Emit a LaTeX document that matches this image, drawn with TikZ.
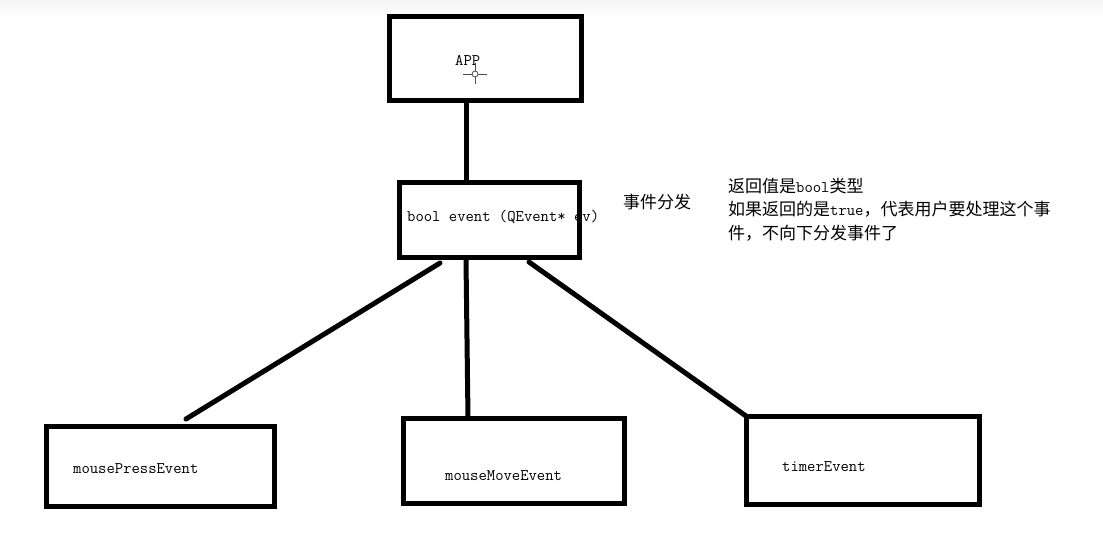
\documentclass[tikz,border=0pt]{standalone}
\usepackage{fontspec}
\newfontfamily\cjk{Noto Sans CJK SC}
\begin{document}
\begin{tikzpicture}[x=1pt,y=-1pt,
  box/.style={draw=black, line width=5pt, rectangle, inner sep=0pt},
  code/.style={font=\fontsize{16.2}{18}\ttfamily, inner sep=0pt, anchor=west},
  link/.style={line width=5pt, line cap=round},
  cjktext/.style={font=\fontsize{17}{23.5}\cjk, inner sep=0pt}
]
\useasboundingbox (0,0) rectangle (1103,558);
\shade[top color=black!4, bottom color=white] (0,0) rectangle (1103,18);

% APP
\node[box, minimum width=192pt, minimum height=84pt] (app) at (485.5,58.5) {};
\node[code] (apptxt) at (455,60) {APP};
% cursor crosshair
\coordinate (cur) at (475,74);
\draw[line width=0.8pt, black!70] ([xshift=-12pt]cur) -- ([xshift=-3pt]cur)
  ([xshift=3pt]cur) -- ([xshift=12pt]cur)
  ([yshift=-10pt]cur) -- ([yshift=-3pt]cur)
  ([yshift=3pt]cur) -- ([yshift=11pt]cur);
\draw[line width=0.8pt, black!70] (cur) circle[radius=3pt];

% event
\node[code] (evtxt) at (407,217) {bool event (QEvent* ev)};
\node[box, minimum width=180pt, minimum height=75pt] (ev) at (489.5,220) {};

% labels
\node[cjktext, anchor=west] (dispatch) at (623,202) {事件分发};
\node[cjktext, anchor=north west, align=left] (note) at (728,178)
 {返回值是{\fontsize{16.2}{18}\ttfamily bool}类型\\
  如果返回的是{\fontsize{16.2}{18}\ttfamily true}，代表用户要处理这个事\\
  件，不向下分发事件了};

% bottom boxes
\node[box, minimum width=228pt, minimum height=79.5pt] (mp) at (160,466.25) {};
\node[code] (mptxt) at (73,469) {mousePressEvent};
\node[box, minimum width=221pt, minimum height=84.5pt] (mm) at (514,460.75) {};
\node[code] (mmtxt) at (445,476) {mouseMoveEvent};
\node[box, minimum width=233.5pt, minimum height=88pt] (tm) at (862.75,460.5) {};
\node[code] (tmtxt) at (782,467) {timerEvent};

% connectors
\coordinate (e1) at (440,263);
\coordinate (p1) at (186,419);
\coordinate (e2) at (466,260);
\coordinate (p2) at (468,418);
\coordinate (e3) at (529,262);
\coordinate (p3) at (746,416);
\draw[link] (app.south -| e2) -- (ev.north -| e2);
\draw[link] (e1) -- (p1);
\draw[link] (e2) -- (p2);
\draw[link] (e3) -- (p3);
\end{tikzpicture}
\end{document}
